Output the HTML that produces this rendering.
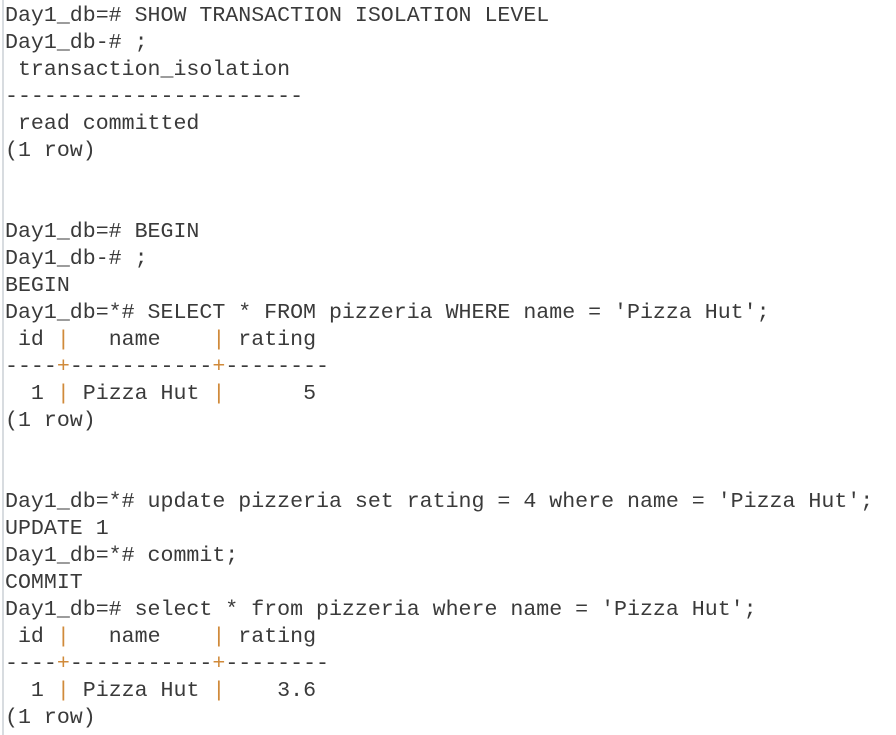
<!DOCTYPE html>
<html><head><meta charset="utf-8"><style>
html,body{margin:0;padding:0;background:#fff;width:896px;height:735px;overflow:hidden}
.bar{position:absolute;left:2px;top:0;width:2px;height:735px;background:#d8dce0}
pre{position:absolute;left:5px;top:3px;margin:0;font-family:"Courier New","Nimbus Mono PS","Liberation Mono",monospace;font-size:21.6px;line-height:27px;color:#3a3a3a}
.o{color:#d08a3a}
</style></head><body>
<div class="bar"></div>
<pre>Day1_db=# SHOW TRANSACTION ISOLATION LEVEL
Day1_db-# ;
 transaction_isolation
-----------------------
 read committed
(1 row)


Day1_db=# BEGIN
Day1_db-# ;
BEGIN
Day1_db=*# SELECT * FROM pizzeria WHERE name = 'Pizza Hut';
 id <span class="o">|</span>   name    <span class="o">|</span> rating
----<span class="o">+</span>-----------<span class="o">+</span>--------
  1 <span class="o">|</span> Pizza Hut <span class="o">|</span>      5
(1 row)


Day1_db=*# update pizzeria set rating = 4 where name = 'Pizza Hut';
UPDATE 1
Day1_db=*# commit;
COMMIT
Day1_db=# select * from pizzeria where name = 'Pizza Hut';
 id <span class="o">|</span>   name    <span class="o">|</span> rating
----<span class="o">+</span>-----------<span class="o">+</span>--------
  1 <span class="o">|</span> Pizza Hut <span class="o">|</span>    3.6
(1 row)</pre>
</body></html>
